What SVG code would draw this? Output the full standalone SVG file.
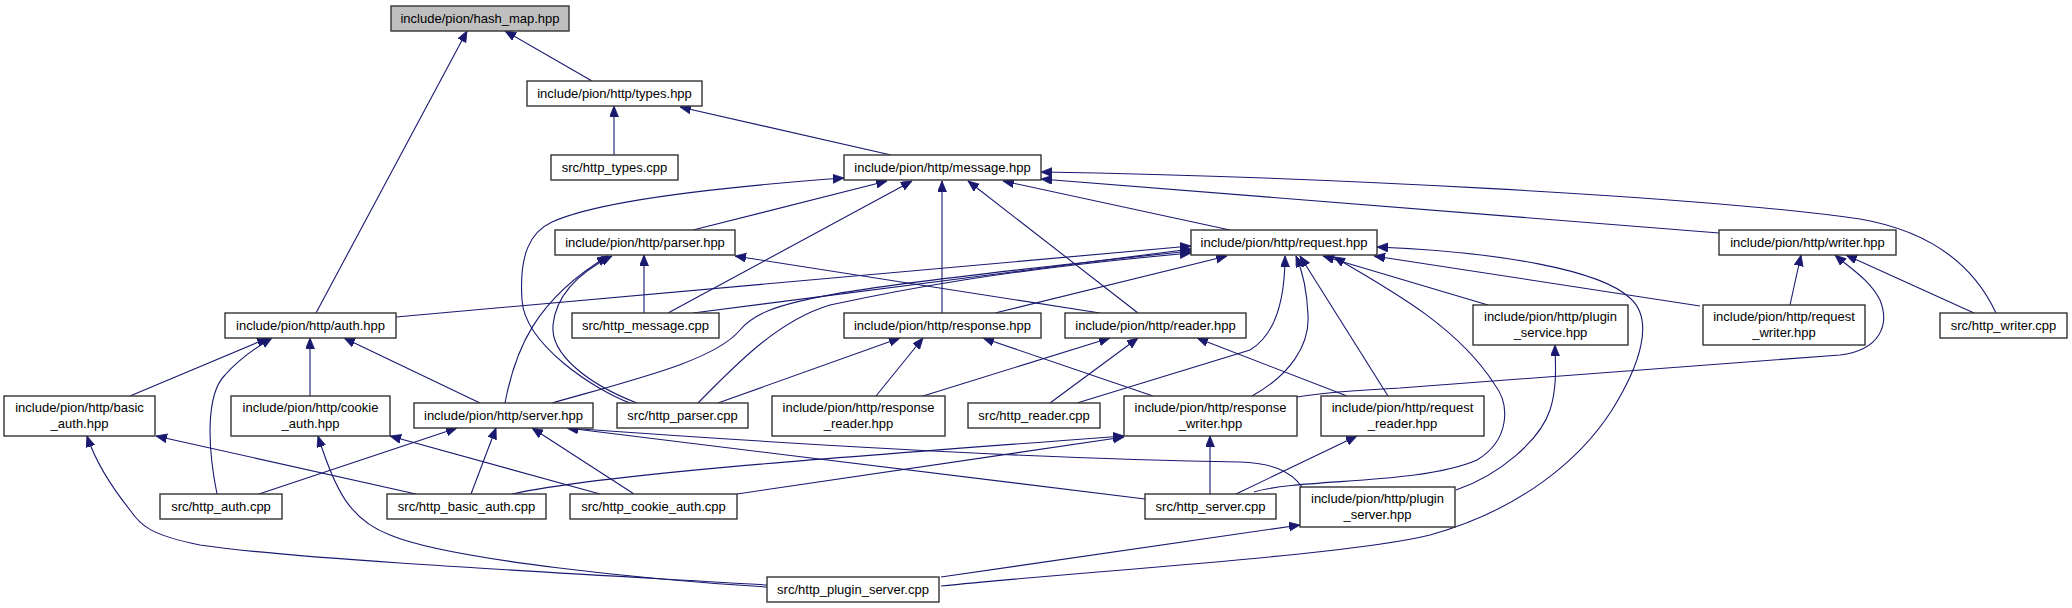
<svg xmlns="http://www.w3.org/2000/svg" width="2072" height="608" viewBox="0 0 2072 608">
<style>
.n rect{fill:#fff;stroke:#333;stroke-width:1.4}
.root rect{fill:#bfbfbf}
.n text{font-family:"Liberation Sans",Arial,sans-serif;font-size:13px;text-anchor:middle;fill:#000}
#edges path{fill:none;stroke:#191970;stroke-width:1.1;marker-end:url(#ah)}
</style>
<defs>
<marker id="ah" markerUnits="userSpaceOnUse" markerWidth="12" markerHeight="10" refX="11" refY="4.5" orient="auto">
<path d="M0,0 L11,4.5 L0,9 z" fill="#191970" stroke="#191970" stroke-width="0.8"/>
</marker>
</defs>
<rect width="2072" height="608" fill="#fff"/>
<g id="edges">
<path d="M316,313 L467,31"/>
<path d="M592,81 L505,31"/>
<path d="M614,155 L614,106"/>
<path d="M891,155 L680,107"/>
<path d="M630,403 C595,390 525,345 522,300 C519,255 530,232 552,222 C600,200 720,187 844,178"/>
<path d="M693,230 L887,181"/>
<path d="M668,313 L912,181"/>
<path d="M942,313 L942,181"/>
<path d="M1138,313 L968,181"/>
<path d="M1230,230 L1003,181"/>
<path d="M1719,233 L1041,179"/>
<path d="M1996,313 C1975,268 1935,232 1860,219 C1700,196 1300,176 1041,172"/>
<path d="M644,313 L644,255"/>
<path d="M1100,313 L735,256"/>
<path d="M505,403 C515,350 535,300 608,256"/>
<path d="M637,403 C590,385 550,355 553,325 C556,295 580,272 612,256"/>
<path d="M396,317 L1191,246"/>
<path d="M693,313 L1191,249"/>
<path d="M552,403 C640,378 715,360 740,330 C765,300 820,290 1191,251"/>
<path d="M698,403 C740,360 780,320 830,305 C900,290 1000,270 1191,253"/>
<path d="M995,313 L1227,256"/>
<path d="M1077,403 L1250,350 C1275,335 1285,300 1285,256"/>
<path d="M1252,396 C1290,375 1310,345 1308,315 C1307,290 1302,270 1296,256"/>
<path d="M1388,396 L1300,256"/>
<path d="M1254,492 C1300,478 1420,485 1477,460 C1510,440 1510,405 1495,385 C1460,330 1400,295 1334,257"/>
<path d="M1488,305 L1323,256"/>
<path d="M1700,306 L1374,256"/>
<path d="M941,586 C1100,570 1350,555 1430,535 C1520,510 1580,460 1612,410 C1640,365 1655,320 1630,298 C1600,270 1500,252 1377,247"/>
<path d="M1790,305 L1801,255"/>
<path d="M1297,397 C1320,393 1360,390 1400,388 L1840,355 C1880,350 1890,325 1880,300 C1870,280 1850,268 1835,255"/>
<path d="M1974,313 L1846,255"/>
<path d="M130,396 L268,338"/>
<path d="M217,494 C208,450 205,395 225,375 C240,358 255,348 272,338"/>
<path d="M310,396 L310,338"/>
<path d="M480,403 L344,338"/>
<path d="M718,403 L900,338"/>
<path d="M876,396 L923,338"/>
<path d="M1153,396 L983,338"/>
<path d="M923,396 L1110,338"/>
<path d="M1050,403 L1138,338"/>
<path d="M1347,396 L1197,338"/>
<path d="M416,494 L156,436"/>
<path d="M767,585 C600,575 300,560 200,545 C150,535 140,525 130,510 C110,485 95,460 87,436"/>
<path d="M600,494 L390,436"/>
<path d="M767,587 C650,580 450,560 390,535 C350,520 335,490 318,436"/>
<path d="M259,494 L457,428"/>
<path d="M471,494 L496,428"/>
<path d="M634,494 L532,428"/>
<path d="M1145,499 L567,428"/>
<path d="M1302,487 C1290,470 1270,463 1240,462 C1100,460 900,452 567,428"/>
<path d="M512,494 C600,475 800,460 1124,436"/>
<path d="M737,494 L1124,437"/>
<path d="M1210,494 L1210,436"/>
<path d="M1236,494 L1357,436"/>
<path d="M1456,490 C1500,475 1540,440 1550,410 C1558,385 1555,360 1555,345"/>
<path d="M941,577 L1300,525"/>
</g>
<g id="hash_map" class="n root"><rect x="391" y="6" width="178" height="25"/><text x="480" y="23">include/pion/hash_map.hpp</text></g>
<g id="types" class="n"><rect x="527" y="81" width="175" height="25"/><text x="614.5" y="98">include/pion/http/types.hpp</text></g>
<g id="http_types" class="n"><rect x="551" y="155" width="127" height="25"/><text x="614.5" y="172">src/http_types.cpp</text></g>
<g id="message" class="n"><rect x="844" y="155" width="197" height="25"/><text x="942.5" y="172">include/pion/http/message.hpp</text></g>
<g id="parser" class="n"><rect x="555" y="230" width="180" height="25"/><text x="645" y="247">include/pion/http/parser.hpp</text></g>
<g id="request" class="n"><rect x="1191" y="230" width="186" height="25"/><text x="1284" y="247">include/pion/http/request.hpp</text></g>
<g id="writer" class="n"><rect x="1719" y="230" width="177" height="25"/><text x="1807.5" y="247">include/pion/http/writer.hpp</text></g>
<g id="auth" class="n"><rect x="225" y="313" width="171" height="25"/><text x="310.5" y="330">include/pion/http/auth.hpp</text></g>
<g id="http_message" class="n"><rect x="572" y="313" width="147" height="25"/><text x="645.5" y="330">src/http_message.cpp</text></g>
<g id="response" class="n"><rect x="844" y="313" width="197" height="25"/><text x="942.5" y="330">include/pion/http/response.hpp</text></g>
<g id="reader" class="n"><rect x="1065" y="313" width="181" height="25"/><text x="1155.5" y="330">include/pion/http/reader.hpp</text></g>
<g id="plugin_service" class="n"><rect x="1473" y="305" width="155" height="40"/><text x="1550.5" y="321">include/pion/http/plugin</text><text x="1550.5" y="337">_service.hpp</text></g>
<g id="request_writer" class="n"><rect x="1703" y="305" width="162" height="40"/><text x="1784" y="321">include/pion/http/request</text><text x="1784" y="337">_writer.hpp</text></g>
<g id="http_writer" class="n"><rect x="1940" y="313" width="127" height="25"/><text x="2003.5" y="330">src/http_writer.cpp</text></g>
<g id="basic_auth" class="n"><rect x="4" y="396" width="151" height="40"/><text x="79.5" y="412">include/pion/http/basic</text><text x="79.5" y="428">_auth.hpp</text></g>
<g id="cookie_auth" class="n"><rect x="231" y="396" width="159" height="40"/><text x="310.5" y="412">include/pion/http/cookie</text><text x="310.5" y="428">_auth.hpp</text></g>
<g id="server" class="n"><rect x="414" y="403" width="179" height="25"/><text x="503.5" y="420">include/pion/http/server.hpp</text></g>
<g id="http_parser" class="n"><rect x="617" y="403" width="131" height="25"/><text x="682.5" y="420">src/http_parser.cpp</text></g>
<g id="response_reader" class="n"><rect x="772" y="396" width="173" height="40"/><text x="858.5" y="412">include/pion/http/response</text><text x="858.5" y="428">_reader.hpp</text></g>
<g id="http_reader" class="n"><rect x="968" y="403" width="132" height="25"/><text x="1034" y="420">src/http_reader.cpp</text></g>
<g id="response_writer" class="n"><rect x="1124" y="396" width="173" height="40"/><text x="1210.5" y="412">include/pion/http/response</text><text x="1210.5" y="428">_writer.hpp</text></g>
<g id="request_reader" class="n"><rect x="1321" y="396" width="163" height="40"/><text x="1402.5" y="412">include/pion/http/request</text><text x="1402.5" y="428">_reader.hpp</text></g>
<g id="http_auth" class="n"><rect x="160" y="494" width="122" height="25"/><text x="221" y="511">src/http_auth.cpp</text></g>
<g id="http_basic_auth" class="n"><rect x="387" y="494" width="159" height="25"/><text x="466.5" y="511">src/http_basic_auth.cpp</text></g>
<g id="http_cookie_auth" class="n"><rect x="570" y="494" width="167" height="25"/><text x="653.5" y="511">src/http_cookie_auth.cpp</text></g>
<g id="http_server" class="n"><rect x="1145" y="494" width="131" height="25"/><text x="1210.5" y="511">src/http_server.cpp</text></g>
<g id="plugin_server" class="n"><rect x="1300" y="487" width="155" height="40"/><text x="1377.5" y="503">include/pion/http/plugin</text><text x="1377.5" y="519">_server.hpp</text></g>
<g id="http_plugin_server" class="n"><rect x="767" y="577" width="172" height="25"/><text x="853" y="594">src/http_plugin_server.cpp</text></g>
</svg>
